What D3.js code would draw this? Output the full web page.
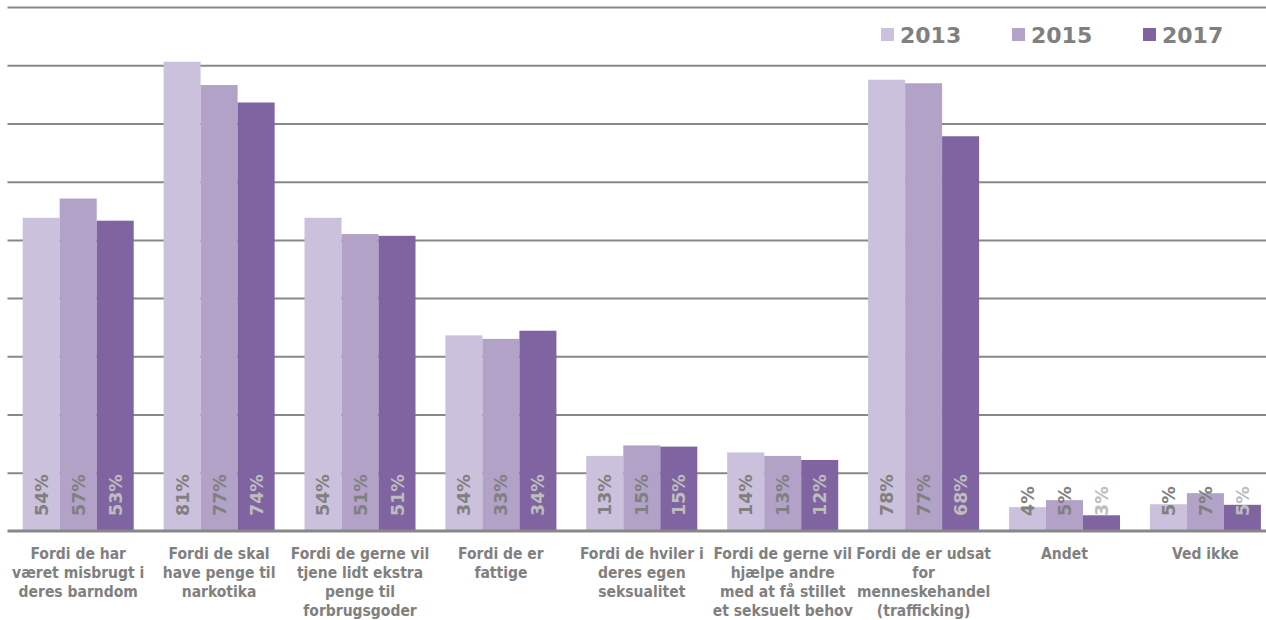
<!DOCTYPE html>
<html><head><meta charset="utf-8">
<script src="https://cdn.jsdelivr.net/npm/d3@7"></script>
<style>
body{margin:0;background:#fff;}
svg{display:block;}
</style></head>
<body><svg id="c" width="1266" height="620"></svg>
<script>
const categories = [
  ["Fordi de har","været misbrugt i","deres barndom"],
  ["Fordi de skal","have penge til","narkotika"],
  ["Fordi de gerne vil","tjene lidt ekstra","penge til","forbrugsgoder"],
  ["Fordi de er","fattige"],
  ["Fordi de hviler i","deres egen","seksualitet"],
  ["Fordi de gerne vil","hjælpe andre","med at få stillet","et seksuelt behov"],
  ["Fordi de er udsat","for","menneskehandel","(trafficking)"],
  ["Andet"],
  ["Ved ikke"]
];
const seriesNames = ["2013","2015","2017"];
const v2013 = [53.8, 80.6, 53.8, 33.6, 12.9, 13.5, 77.5, 4.1, 4.6];
const v2015 = [57.1, 76.6, 51.0, 33.0, 14.7, 12.9, 76.9, 5.3, 6.5];
const v2017 = [53.3, 73.6, 50.7, 34.4, 14.5, 12.2, 67.8, 2.7, 4.5];
const gridTicks = [10,20,30,40,50,60,70,80,90];

const seriesValues = [v2013, v2015, v2017];
const colors = ["#cbc1dc","#b2a2c8","#7f64a1"];
const labelColors = ["#808080","#808080","#bdbdbd"];
const grey = "#808080";
const fontC = "'DejaVu Sans Condensed','DejaVu Sans',sans-serif";
const fontN = "'DejaVu Sans',sans-serif";

const svg = d3.select("#c");
const W = 1266;
const x0 = d3.scaleBand().domain(d3.range(categories.length)).range([7.75, 7.75 + 9*140.9]).paddingInner(0.212).paddingOuter(0.106);
const x1 = d3.scaleBand().domain(d3.range(3)).range([0, x0.bandwidth()]);
const y = d3.scaleLinear().domain([0, 90]).range([531, 7]);

// gridlines
const grid = svg.append("g").attr("transform","translate(7.5,0)")
  .call(d3.axisLeft(y).tickValues(gridTicks).tickSize(-(W-7.5)).tickFormat(""));
grid.select(".domain").remove();
grid.selectAll(".tick line").attr("stroke","#878787").attr("stroke-width",2);

// bars
const groups = svg.append("g").selectAll("g").data(categories).join("g")
  .attr("transform",(d,i)=>`translate(${x0(i)},0)`);
groups.selectAll("rect").data((d,i)=>seriesValues.map((s,j)=>({j, v:s[i]}))).join("rect")
  .attr("x",d=>x1(d.j)).attr("width",x1.bandwidth())
  .attr("y",d=>y(d.v)).attr("height",d=>y(0)-y(d.v))
  .attr("fill",d=>colors[d.j]);

// baseline
svg.append("line").attr("x1",7.5).attr("x2",W).attr("y1",y(0)).attr("y2",y(0))
  .attr("stroke","#878787").attr("stroke-width",3);

// value labels
groups.selectAll("text.val").data((d,i)=>seriesValues.map((s,j)=>({j, v:s[i]}))).join("text")
  .attr("class","val")
  .attr("transform",d=>`translate(${x1(d.j)+x1.bandwidth()/2+6.5},${y(0)-15}) rotate(-90)`)
  .attr("font-family",fontN).attr("font-weight","bold").attr("font-size",17.5)
  .attr("fill",d=>labelColors[d.j])
  .text(d=>Math.round(d.v)+"%");

// category axis
const xAxis = svg.append("g").attr("transform",`translate(0,${y(0)})`)
  .call(d3.axisBottom(x0).tickSize(0).tickFormat(""));
xAxis.select(".domain").remove();
xAxis.selectAll(".tick").each(function(i){
  const t = d3.select(this).append("text")
    .attr("fill",grey).attr("font-family",fontC).attr("font-weight","bold")
    .attr("font-size",15.5).attr("text-anchor","middle");
  categories[i].forEach((line,k)=>{
    t.append("tspan").attr("x",0).attr("y",27.5+k*19).text(line);
  });
});

// legend
const legend = svg.append("g");
const lx = d3.scalePoint().domain(seriesNames).range([881, 1143]);
seriesNames.forEach((n,j)=>{
  legend.append("rect").attr("x",lx(n)).attr("y",28).attr("width",13).attr("height",13).attr("fill",colors[j]);
  legend.append("text").attr("x",lx(n)+19).attr("y",43).attr("fill",grey)
    .attr("font-family",fontN).attr("font-weight","bold").attr("font-size",22).text(n);
});
</script></body></html>
